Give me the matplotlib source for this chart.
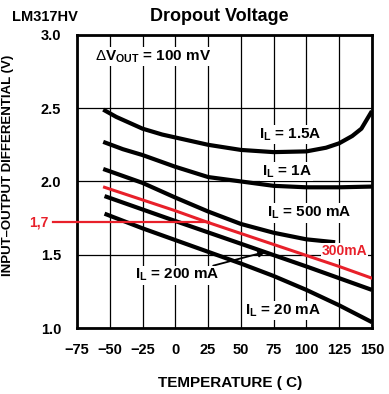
import numpy as np
import matplotlib.pyplot as plt

# curves (temperature in C, volts)
t_15a = [-55, -45, -35, -25, -10, 0, 25, 50, 75, 100, 115, 125, 135, 142, 150]
v_15a = [2.49, 2.44, 2.40, 2.36, 2.32, 2.30, 2.25, 2.215, 2.20, 2.205, 2.23, 2.26, 2.31, 2.36, 2.48]

t_1a = [-55, -40, -25, 0, 25, 50, 75, 100, 125, 150]
v_1a = [2.27, 2.22, 2.18, 2.10, 2.03, 2.00, 1.97, 1.96, 1.96, 1.965]

t_500 = [-55, -25, 0, 25, 50, 75, 100, 122]
v_500 = [2.085, 1.99, 1.89, 1.795, 1.71, 1.65, 1.605, 1.585]

t_300 = [-54, 0, 25, 50, 75, 100, 125, 150]
v_300 = [1.96, 1.80, 1.72, 1.645, 1.57, 1.495, 1.42, 1.34]

t_200 = [-54, 0, 50, 100, 150]
v_200 = [1.90, 1.73, 1.575, 1.42, 1.26]

t_20 = [-54, -25, 0, 25, 50, 75, 100, 125, 150]
v_20 = [1.78, 1.68, 1.60, 1.52, 1.44, 1.355, 1.26, 1.155, 1.04]

red_level = 1.72
red_level_end = 26

xticks = [-75, -50, -25, 0, 25, 50, 75, 100, 125, 150]
xticklabels = ['\u221275', '\u221250', '\u221225', '0', '25', '50', '75', '100', '125', '150']
yticks = [1.0, 1.5, 2.0, 2.5, 3.0]

plt.rcParams['font.family'] = ['Liberation Sans', 'DejaVu Sans']
plt.rcParams['mathtext.fontset'] = 'custom'
plt.rcParams['mathtext.rm'] = 'Liberation Sans'
plt.rcParams['mathtext.it'] = 'Liberation Sans'
plt.rcParams['mathtext.bf'] = 'Liberation Sans:bold'

fig = plt.figure(figsize=(3.89, 3.94), dpi=100)
ax = fig.add_axes([0.198, 0.1675, 0.758, 0.744])

ax.set_xlim(-75, 150)
ax.set_ylim(1.0, 3.0)
ax.set_xticks(xticks)
ax.set_xticklabels(xticklabels)
ax.set_yticks(yticks)
ax.set_yticklabels(['%.1f' % v for v in yticks])
ax.tick_params(length=0, labelsize=10.5)
ax.tick_params(axis='x', pad=11)
ax.tick_params(axis='y', pad=11.5)
for lab in ax.get_xticklabels() + ax.get_yticklabels():
    lab.set_fontweight('bold')
ax.grid(True, color='black', linewidth=0.9)
for s in ax.spines.values():
    s.set_linewidth(2)

lw = 3.0
ax.plot(t_15a, v_15a, color='black', lw=lw, solid_capstyle='butt', zorder=3)
ax.plot(t_1a, v_1a, color='black', lw=lw, solid_capstyle='butt', zorder=3)
ax.plot(t_500, v_500, color='black', lw=lw, solid_capstyle='butt', zorder=3)
ax.plot(t_200, v_200, color='black', lw=lw, solid_capstyle='butt', zorder=3)
ax.plot(t_20, v_20, color='black', lw=lw, solid_capstyle='butt', zorder=3)
ax.plot(t_300, v_300, color='#e8202a', lw=2.2, zorder=4)

# marker line for 1,7 V
ax.plot([-93, red_level_end], [red_level, red_level], color='#e8202a', lw=1.6,
        clip_on=False, zorder=4)
ax.text(-97, red_level, '1,7', color='#e8202a', fontsize=10, fontweight='bold',
        ha='right', va='center', clip_on=False)
ax.text(112, 1.525, '300mA', color='#e8202a', fontsize=10, fontweight='bold',
        ha='left', va='center', zorder=5,
        bbox=dict(facecolor='white', edgecolor='none', pad=0.5))

box = dict(facecolor='white', edgecolor='none', pad=1)
kw = dict(fontsize=11, fontweight='bold', ha='left', va='center', zorder=5, bbox=box)
ax.text(64, 2.32, r'I$_\mathbf{L}$ = 1.5A', **kw)
ax.text(66, 2.065, r'I$_\mathbf{L}$ = 1A', **kw)
ax.text(70, 1.785, r'I$_\mathbf{L}$ = 500 mA', **kw)
ax.text(53, 1.12, r'I$_\mathbf{L}$ = 20 mA', **kw)
ax.annotate(r'I$_\mathbf{L}$ = 200 mA', xy=(69, 1.52), xytext=(-31, 1.36),
            fontsize=11, fontweight='bold', ha='left', va='center', zorder=5,
            bbox=box,
            arrowprops=dict(arrowstyle='-|>', color='black', lw=1.3,
                            mutation_scale=10, shrinkA=0, shrinkB=0))
ax.text(-61, 2.85, r'$\Delta$V$_\mathbf{OUT}$ = 100 mV', **kw)

ax.set_xlabel('TEMPERATURE ( C)', fontsize=11, fontweight='bold')
ax.xaxis.set_label_coords(0.52, -0.165)
ax.set_ylabel('INPUT\u2013OUTPUT DIFFERENTIAL (V)', fontsize=9.5, fontweight='bold')
ax.yaxis.set_label_coords(-0.215, 0.556)

fig.text(0.563, 0.957, 'Dropout Voltage', fontsize=13, fontweight='bold',
         ha='center', va='center')
fig.text(0.03, 0.957, 'LM317HV', fontsize=10.5, fontweight='bold',
         ha='left', va='center')

fig.savefig('out.png', dpi=100)
